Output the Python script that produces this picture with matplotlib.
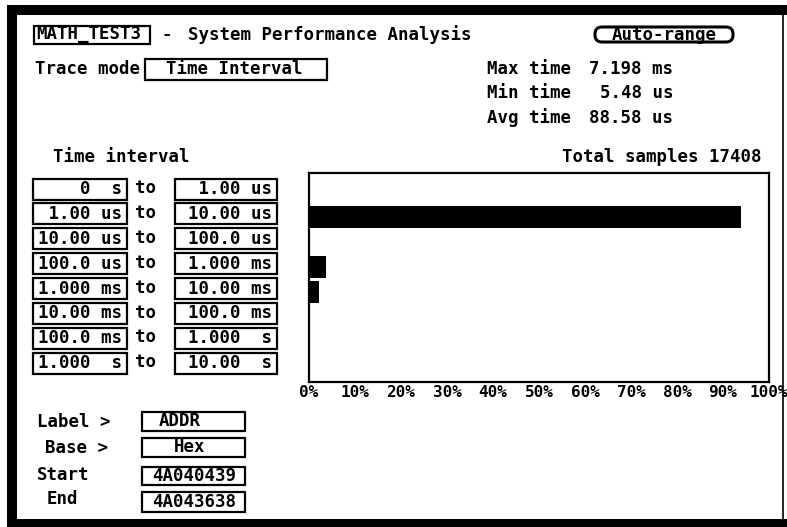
import matplotlib
matplotlib.use("Agg")
import matplotlib.pyplot as plt
from matplotlib.patches import Rectangle, FancyBboxPatch

# ---------------- data ----------------
range_lo = ["0", "1.00", "10.00", "100.0", "1.000", "10.00", "100.0", "1.000"]
range_lo_unit = ["s", "us", "us", "us", "ms", "ms", "ms", "s"]
range_hi = ["1.00", "10.00", "100.0", "1.000", "10.00", "100.0", "1.000", "10.00"]
range_hi_unit = ["us", "us", "us", "ms", "ms", "ms", "s", "s"]
percent = [0.0, 94.0, 0.0, 3.6, 2.2, 0.0, 0.0, 0.0]
x_ticks = [0, 10, 20, 30, 40, 50, 60, 70, 80, 90, 100]
x_tick_labels = [f"{t}%" for t in x_ticks]

title_name = "MATH_TEST3"
title_text = "System Performance Analysis"
trace_mode = "Time Interval"
stat_labels = ["Max time", "Min time", "Avg time"]
stat_values = ["7.198 ms", "5.48 us", "88.58 us"]
total_samples = 17408
label_name = "ADDR"
base_name = "Hex"
start_addr = "4A040439"
end_addr = "4A043638"

# ---------------- figure ----------------
W, H = 787, 527
fig = plt.figure(figsize=(W / 100, H / 100), dpi=100)
fig.patch.set_facecolor("white")

FONT = dict(family="DejaVu Sans Mono", weight="bold", color="black")
FS = 12.5

ax0 = fig.add_axes([0, 0, 1, 1])
ax0.set_xlim(0, W)
ax0.set_ylim(H, 0)
ax0.axis("off")

# outer frame
ax0.add_patch(Rectangle((7, 5), W - 7, 10, color="black", lw=0))
ax0.add_patch(Rectangle((7, 5), 10, H - 5, color="black", lw=0))
ax0.add_patch(Rectangle((7, 519), W - 7, 8, color="black", lw=0))
ax0.plot([783, 783], [15, 519], color="black", lw=1.2)


def box(x0, y0, x1, y1, lw=1.6, rounded=False):
    if rounded:
        p = FancyBboxPatch((x0, y0), x1 - x0, y1 - y0,
                           boxstyle="round,pad=0,rounding_size=7",
                           fill=False, ec="black", lw=2.2)
    else:
        p = Rectangle((x0, y0), x1 - x0, y1 - y0, fill=False, ec="black", lw=lw)
    ax0.add_patch(p)


def txt(x, y, s, ha="left", fs=FS):
    ax0.text(x, y, s, ha=ha, va="center", fontsize=fs, **FONT)


# header
box(34, 26, 150, 44)
txt(36, 34, title_name)
txt(162, 35, "-")
txt(188, 35, title_text)
box(595, 27, 733, 42, rounded=True)
txt(664, 34.5, "Auto-range", ha="center")

txt(35, 69, "Trace mode")
box(145, 59, 327, 80)
txt(234, 69.5, trace_mode, ha="center")

for i, (lab, val) in enumerate(zip(stat_labels, stat_values)):
    y = 69 + i * 24.5
    txt(487, y, lab)
    txt(673, y, val, ha="right")

txt(53, 157, "Time interval")
txt(762, 157, f"Total samples {total_samples}", ha="right")

# interval boxes
for i in range(len(range_lo)):
    yc = 189 + 24.9 * i
    box(33, yc - 10.5, 127, yc + 10.5)
    box(175, yc - 10.5, 277, yc + 10.5)
    txt(122, yc, f"{range_lo[i]:>5} {range_lo_unit[i]:>2}", ha="right")
    txt(272, yc, f"{range_hi[i]:>5} {range_hi_unit[i]:>2}", ha="right")
    txt(146, yc - 1, "to", ha="center")

# bottom fields
txt(37, 422, "Label >")
box(142, 412, 245, 431)
txt(180, 421.5, label_name, ha="center")
txt(45, 448, "Base >")
box(142, 438, 245, 457)
txt(190, 447.5, base_name, ha="center")
txt(37, 475, "Start")
box(142, 467, 245, 485)
txt(194, 476, start_addr, ha="center")
txt(47, 499, "End")
box(142, 492, 245, 512)
txt(194, 502, end_addr, ha="center")

# ---------------- bar chart ----------------
L, R, T, B = 309, 769, 173, 382
ax = fig.add_axes([L / W, 1 - B / H, (R - L) / W, (B - T) / H])
rows = list(range(len(percent)))
ax.barh(rows, percent, height=0.86, color="black", align="center")
ax.set_xlim(0, 100)
ax.set_ylim((B - 192) / 25, (T - 192) / 25)
ax.set_xticks(x_ticks)
ax.set_xticklabels(x_tick_labels, fontsize=11.5, **FONT)
ax.tick_params(axis="x", length=0, pad=2)
ax.set_yticks([])
for s in ax.spines.values():
    s.set_linewidth(1.6)
    s.set_color("black")
ax.set_facecolor("white")

fig.savefig("out.png", dpi=100, facecolor="white")
